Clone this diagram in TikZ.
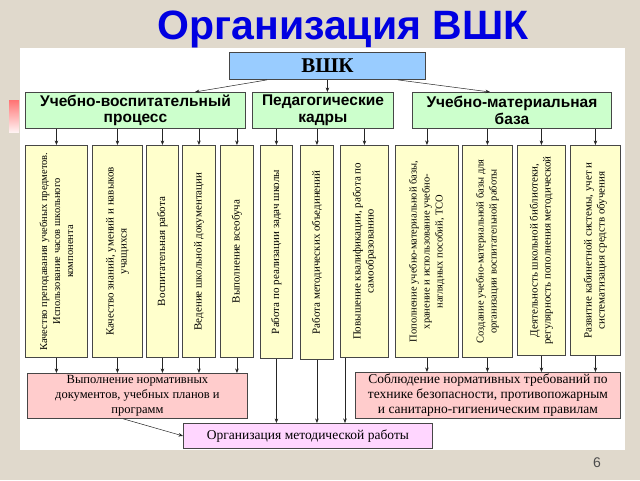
\documentclass[tikz,border=0pt]{standalone}
\usepackage{fontspec}
\setmainfont{Liberation Serif}
\setsansfont{Liberation Sans}
\usepackage{tikz}
\usetikzlibrary{positioning,arrows.meta,calc}

\definecolor{slidebg}{RGB}{224,217,204}
\definecolor{titleblue}{RGB}{0,0,225}
\definecolor{vshkblue}{RGB}{153,204,255}
\definecolor{levelgreen}{RGB}{204,255,204}
\definecolor{taskyellow}{RGB}{255,255,204}
\definecolor{normpink}{RGB}{255,204,204}
\definecolor{orgpink}{RGB}{255,214,255}
\definecolor{boxline}{RGB}{70,70,70}

\newcommand{\vlab}[2]{\rotatebox{90}{\parbox{#1}{\centering #2}}}

\begin{document}
\begin{tikzpicture}[x=1pt,y=-1pt,
    box/.style={draw=boxline, line width=0.9pt, inner sep=0pt, anchor=north west},
    level/.style={box, fill=levelgreen, align=center,
      font=\sffamily\bfseries\fontsize{15.5}{16.5}\selectfont},
    task/.style={box, fill=taskyellow, font=\fontsize{11}{13}\selectfont},
    norm/.style={box, fill=normpink, align=center, font=\fontsize{12.5}{15}\selectfont},
    arr/.style={-{Stealth[length=4.5pt,width=3.5pt]}, line width=0.5pt, black!85}]
  \useasboundingbox (0,0) rectangle (640,480);

  % slide
  \fill[slidebg] (0,0) rectangle (640,480);
  \fill[white] (20,48) rectangle (625,450);
  \shade[top color=red!55!white, bottom color=red!5!white] (9,100) rectangle (19,132);
  \node[font=\sffamily\bfseries\fontsize{41}{43}\selectfont, text=titleblue] (title) at (343,29) {Организация ВШК};
  \node[font=\sffamily\fontsize{14}{16}\selectfont, text=black!70] (page) at (597,463) {6};

  % top
  \node[box, fill=vshkblue, minimum width=196, minimum height=27,
    font=\bfseries\fontsize{21}{23}\selectfont] (vshk) at (229,52) {ВШК};

  % second level
  \node[level, minimum width=220, minimum height=36] (uvp) at (25,92) {Учебно-воспитательный\\процесс};
  \node[level, minimum width=141, minimum height=36] (pk) at (252,92) {Педагогические\\кадры};
  \node[level, minimum width=199, minimum height=36] (umb) at (412,92) {Учебно-материальная\\база};

  \draw[arr] ([xshift=38]vshk.south west) -- ([xshift=170]uvp.north west);
  \draw[arr] (vshk.south) -- (vshk.south |- pk.north);
  \draw[arr] ([xshift=-28]vshk.south east) -- ([xshift=78]umb.north west);

  % control objects
  \node[task, minimum width=62, minimum height=212, font=\fontsize{10.5}{13}\selectfont] (q1) at (25,145)
    {\vlab{206pt}{Качество преподавания учебных предметов.\\Использование часов школьного\\компонента}};
  \node[task, minimum width=50, minimum height=212] (q2) at (92,145)
    {\vlab{204pt}{Качество знаний, умений и навыков\\учащихся}};
  \node[task, minimum width=32, minimum height=212] (q3) at (146,145)
    {\vlab{200pt}{Воспитательная работа}};
  \node[task, minimum width=33, minimum height=212] (q4) at (182,145)
    {\vlab{200pt}{Ведение школьной документации}};
  \node[task, minimum width=33, minimum height=212] (q5) at (220,145)
    {\vlab{200pt}{Выполнение всеобуча}};
  \node[task, minimum width=32, minimum height=213] (q6) at (260,145)
    {\vlab{200pt}{Работа по реализации задач школы}};
  \node[task, minimum width=33, minimum height=214] (q7) at (300,145)
    {\vlab{200pt}{Работа методических объединений}};
  \node[task, minimum width=48, minimum height=212] (q8) at (340,145)
    {\vlab{204pt}{Повышение квалификации, работа по\\самообразованию}};
  \node[task, minimum width=63, minimum height=212, font=\fontsize{10.5}{13}\selectfont] (q9) at (395,145)
    {\vlab{206pt}{Пополнение учебно-материальной базы,\\хранение и использование учебно-\\наглядных пособий, ТСО}};
  \node[task, minimum width=50, minimum height=212, font=\fontsize{10.5}{13}\selectfont] (q10) at (462,145)
    {\vlab{206pt}{Создание учебно-материальной базы для\\организации воспитательной работы}};
  \node[task, minimum width=48, minimum height=210] (q11) at (517,145)
    {\vlab{204pt}{Деятельность школьной библиотеки,\\регулярность пополнения методической}};
  \node[task, minimum width=50, minimum height=210] (q12) at (570,145)
    {\vlab{204pt}{Развитие кабинетной системы, учет и\\систематизация средств обучения}};

  \draw[arr] (uvp.south -| q1) -- (q1.north);
  \draw[arr] (uvp.south -| q2) -- (q2.north);
  \draw[arr] (uvp.south -| q3) -- (q3.north);
  \draw[arr] (uvp.south -| q4) -- (q4.north);
  \draw[arr] (uvp.south -| q5) -- (q5.north);
  \draw[arr] (pk.south -| q6) -- (q6.north);
  \draw[arr] (pk.south -| q7) -- (q7.north);
  \draw[arr] (pk.south -| q8) -- (q8.north);
  \draw[arr] (umb.south -| q9) -- (q9.north);
  \draw[arr] (umb.south -| q10) -- (q10.north);
  \draw[arr] (umb.south -| q11) -- (q11.north);
  \draw[arr] (umb.south -| q12) -- (q12.north);

  % results
  \node[norm, minimum width=220, minimum height=45] (vyp) at (27,373)
    {Выполнение нормативных\\документов, учебных планов и\\программ};
  \node[norm, minimum width=265, minimum height=46, font=\fontsize{13.5}{15}\selectfont] (sob) at (355,372)
    {Соблюдение нормативных требований по\\технике безопасности, противопожарным\\и санитарно-гигиеническим правилам};
  \node[box, fill=orgpink, minimum width=249, minimum height=25,
    font=\fontsize{13.5}{15}\selectfont] (org) at (183,423) {Организация методической работы};

  \draw[arr] (q1.south) -- (q1.south |- vyp.north);
  \draw[arr] (q2.south) -- (q2.south |- vyp.north);
  \draw[arr] (q3.south) -- (q3.south |- vyp.north);
  \draw[arr] (q4.south) -- (q4.south |- vyp.north);
  \draw[arr] (q5.south) -- (q5.south |- vyp.north);
  \draw[arr] (q6.south) -- (q6.south |- org.north);
  \draw[arr] (q7.south) -- (q7.south |- org.north);
  \draw[arr] ([xshift=5]q8.south west) -- ([xshift=5]q8.south west |- org.north);
  \draw[arr] (q9.south) -- (q9.south |- sob.north);
  \draw[arr] (q10.south) -- (q10.south |- sob.north);
  \draw[arr] (q11.south) -- (q11.south |- sob.north);
  \draw[arr] (q12.south) -- (q12.south |- sob.north);
  \draw[arr] ([xshift=-14]vyp.south) -- (org.west);
\end{tikzpicture}
\end{document}
